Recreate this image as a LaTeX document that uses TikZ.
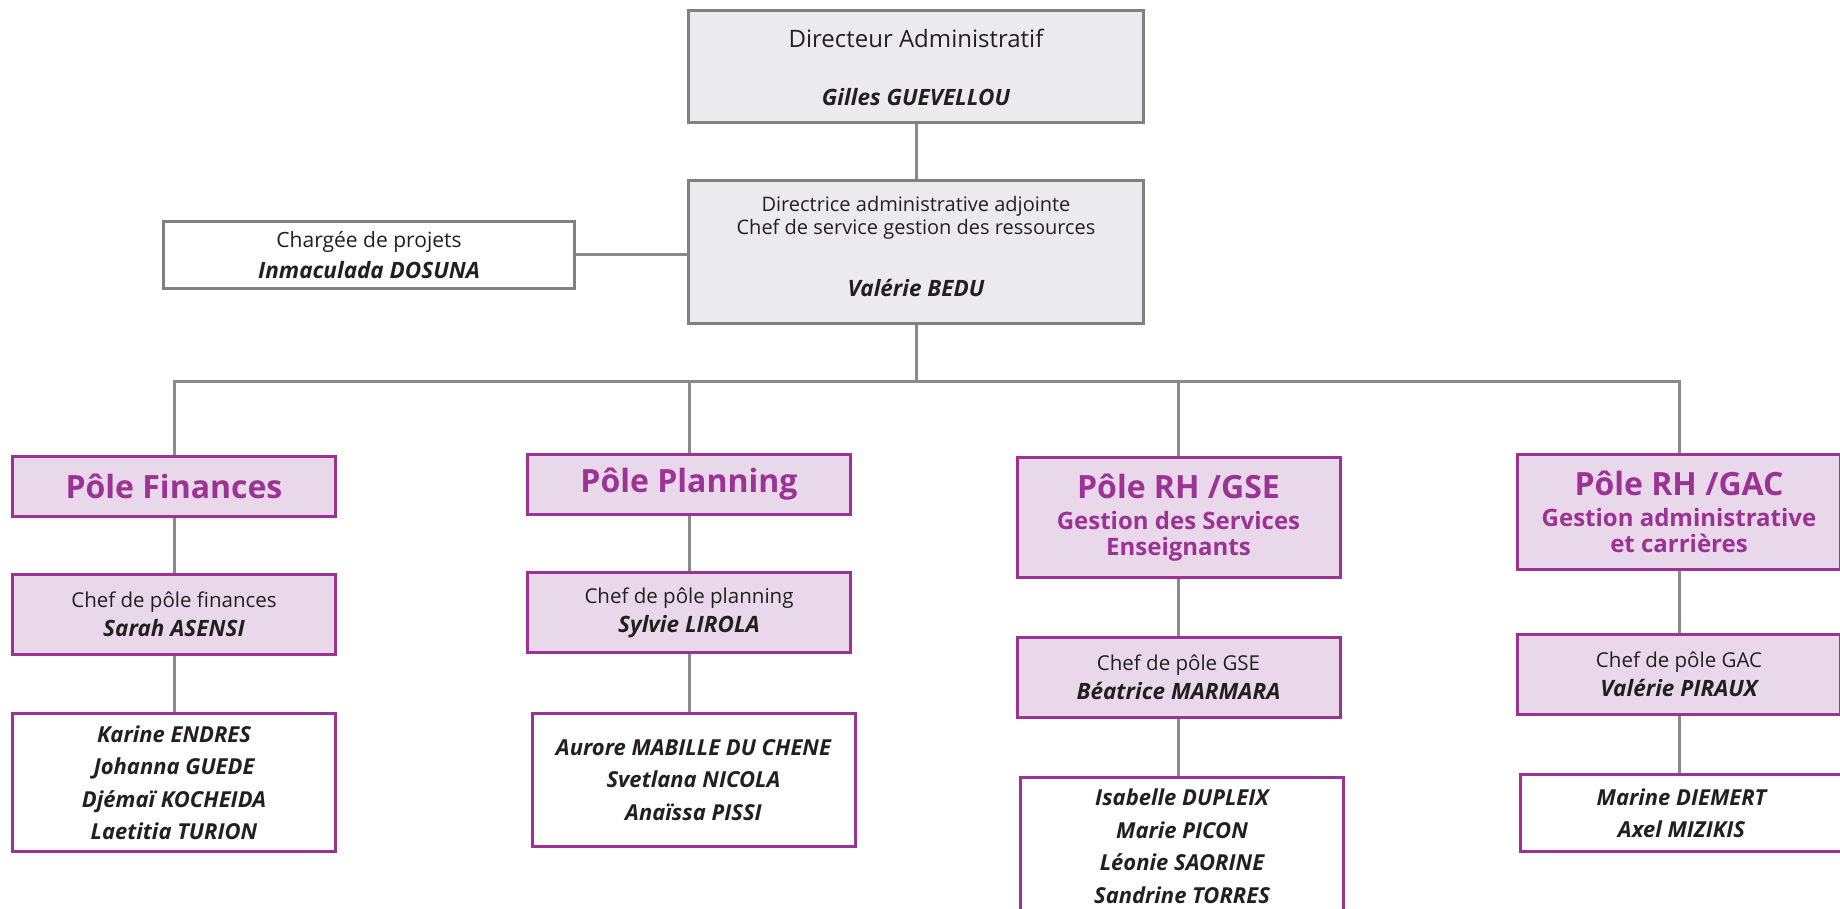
\documentclass[tikz,border=0pt]{standalone}
\usepackage{fontspec}
\setmainfont{Open Sans}
\usetikzlibrary{positioning,calc}
\definecolor{pole}{RGB}{155,50,148}
\definecolor{polefill}{RGB}{233,216,234}
\definecolor{boxgray}{RGB}{128,128,130}
\definecolor{boxfill}{RGB}{235,235,237}
\definecolor{linkgray}{RGB}{138,138,140}
\definecolor{txt}{RGB}{35,31,32}
\newcommand{\pname}[1]{{\bfseries\itshape\fontsize{22.5}{29}\selectfont #1}}
\newcommand{\ptitle}[1]{{\fontsize{32}{36}\selectfont #1}}
\tikzset{
	every node/.style={inner sep=0pt, align=center, text=txt},
	dirbox/.style={draw=boxgray, fill=boxfill, line width=3pt, minimum width=455pt},
	chargebox/.style={draw=boxgray, fill=white, line width=3pt, minimum width=411pt, minimum height=67pt},
	polebox/.style={draw=pole, fill=polefill, line width=3pt, minimum width=323pt, text=pole, font=\bfseries\fontsize{24}{26}\selectfont},
	chefbox/.style={draw=pole, fill=polefill, line width=3pt, minimum width=323pt, minimum height=80pt, font=\fontsize{20.5}{29}\selectfont},
	namebox/.style={draw=pole, fill=white, line width=3pt, minimum width=323pt, font=\bfseries\itshape\fontsize{22}{32.5}\selectfont},
	link/.style={draw=linkgray, line width=3pt},
}

\begin{document}
\begin{tikzpicture}[x=1pt,y=-1pt]
	\useasboundingbox (0,0) rectangle (1840,909);

	% direction
	\node[dirbox, minimum height=112pt, font=\fontsize{24}{29}\selectfont] (dir) at (916,67) {Directeur Administratif\\[29pt]\pname{Gilles GUEVELLOU}};
	\node[dirbox, minimum height=143pt, font=\fontsize{20}{23.5}\selectfont] (adj) at (916,252) {Directrice administrative adjointe\\Chef de service gestion des ressources\\[38pt]\pname{Valérie BEDU}\\[-12pt]};
	\node[chargebox, font=\fontsize{21}{31}\selectfont] (charge) at (369,255) {Chargée de projets\\\pname{Inmaculada DOSUNA}};
	\coordinate (bus) at (916,381);

	% poles
	\node[polebox, minimum height=60pt] (fin) at (174,486.5) {\ptitle{Pôle Finances}};
	\node[polebox, minimum height=60pt] (plan) at (689,484.5) {\ptitle{Pôle Planning}};
	\node[polebox, minimum height=120pt] (gse) at (1178.5,517.5) {\ptitle{Pôle RH /GSE}\\[5pt]Gestion des Services\\Enseignants};
	\node[polebox, minimum height=115pt] (gac) at (1679,512) {\ptitle{Pôle RH /GAC}\\[5pt]Gestion administrative\\et carrières};

	\node[chefbox] (fin-chef) at (174,614) {Chef de pôle finances\\\pname{Sarah ASENSI}};
	\node[chefbox] (plan-chef) at (689,612.5) {Chef de pôle planning\\\pname{Sylvie LIROLA}};
	\node[chefbox] (gse-chef) at (1178.5,677.5) {Chef de pôle GSE\\\pname{Béatrice MARMARA}};
	\node[chefbox] (gac-chef) at (1679,674) {Chef de pôle GAC\\\pname{Valérie PIRAUX}};

	\node[namebox, minimum height=138pt] (fin-names) at (174,782.5) {Karine ENDRES\\Johanna GUEDE\\Djémaï KOCHEIDA\\Laetitia TURION};
	\node[namebox, minimum height=133pt] (plan-names) at (693.5,780) {Aurore MABILLE DU CHENE\\Svetlana NICOLA\\Anaïssa PISSI};
	\node[namebox, minimum height=138pt] (gse-names) at (1182,846) {Isabelle DUPLEIX\\Marie PICON\\Léonie SAORINE\\Sandrine TORRES};
	\node[namebox, minimum height=77pt] (gac-names) at (1681.5,813) {Marine DIEMERT\\Axel MIZIKIS};

	\draw[link] (dir.south) -- (adj.north);
	\draw[link] (charge.east) -- (charge.east -| adj.west);
	\draw[link] (adj.south) -- (bus);
	\draw[link] (fin.north) |- (bus) -| (gac.north);
	\draw[link] (plan.north) -- (plan.north |- bus);
	\draw[link] (gse.north) -- (gse.north |- bus);
	\foreach \p in {fin,plan,gse,gac}{
		\draw[link] (\p.south) -- (\p-chef.north);
		\draw[link] (\p-chef.south) -- (\p-chef.south |- \p-names.north);
	}
\end{tikzpicture}
\end{document}
